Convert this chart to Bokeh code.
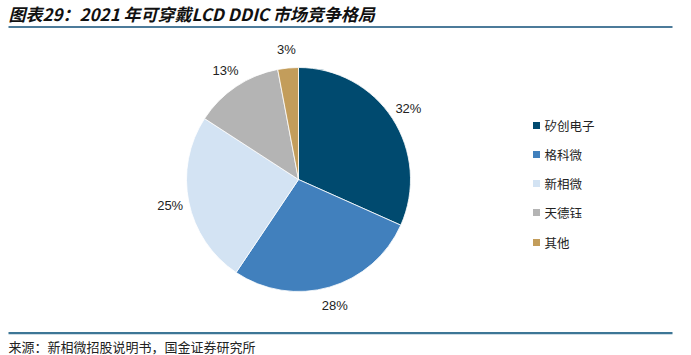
import math
from bokeh.plotting import figure
from bokeh.models import Range1d, ColumnDataSource
from bokeh.core.properties import value
from bokeh.embed import file_html
from bokeh.resources import INLINE

# data
categories = ["矽创电子", "格科微", "新相微", "天德钰", "其他"]
shares = [32, 28, 25, 13, 3]
colors = ["#004A6F", "#4180BD", "#D3E3F3", "#B4B4B4", "#C39D5B"]
title_text = "图表29：2021 年可穿戴LCD DDIC 市场竞争格局"
source_text = "来源：新相微招股说明书，国金证券研究所"

W, H = 691, 355
p = figure(width=W, height=H, output_backend="svg", toolbar_location=None,
           x_range=Range1d(0, W), y_range=Range1d(0, H), min_border=0)
p.axis.visible = False
p.xgrid.visible = False
p.ygrid.visible = False
p.outline_line_color = None
p.background_fill_color = "white"
p.border_fill_color = "white"

def Y(y):
    return H - y

cx, cy, R = 298, Y(179), 112
total = sum(shares)
starts, ends, lx, ly, labels = [], [], [], [], []
cum = 0.0
for v in shares:
    a0 = math.pi / 2 - 2 * math.pi * cum / total
    cum += v
    a1 = math.pi / 2 - 2 * math.pi * cum / total
    starts.append(a1)
    ends.append(a0)
    mid = (a0 + a1) / 2
    lx.append(cx + 131 * math.cos(mid))
    ly.append(cy + 131 * math.sin(mid))
    labels.append(f"{v}%")

src = ColumnDataSource(dict(start=starts, end=ends, color=colors))
p.wedge(x=cx, y=cy, radius=R, radius_units="screen", start_angle="start", end_angle="end",
        fill_color="color", line_color="white", line_width=0.8, source=src)

p.text(x=lx, y=ly, text=labels, text_align="center", text_baseline="middle",
       text_font=value("Liberation Sans"), text_font_size="13px", text_color="#222222")

# legend
leg_y = [Y(125), Y(154), Y(183), Y(212), Y(242)]
p.scatter(x=[536] * 5, y=leg_y, marker="square", size=7, fill_color=colors, line_color=None)
p.text(x=[544] * 5, y=leg_y, text=categories, text_align="left", text_baseline="middle",
       text_font=value("Noto Sans CJK SC"), text_font_size="12.5px", text_color="#222222")

# title and rules
p.text(x=[8], y=[Y(13)], text=[title_text], text_align="left", text_baseline="middle",
       text_font=value("Noto Sans CJK SC"), text_font_style="bold italic",
       text_font_size="17px", text_color="#111111")
p.line(x=[8, 672], y=[Y(26.5), Y(26.5)], line_color="#4C7B9A", line_width=2.2)
p.line(x=[8, 672], y=[Y(332.7), Y(332.7)], line_color="#3D7696", line_width=2.2)
p.text(x=[8], y=[Y(346)], text=[source_text], text_align="left", text_baseline="middle",
       text_font=value("Noto Sans CJK SC"), text_font_size="13px", text_color="#222222")

open("out.html", "w").write(file_html(p, INLINE))
